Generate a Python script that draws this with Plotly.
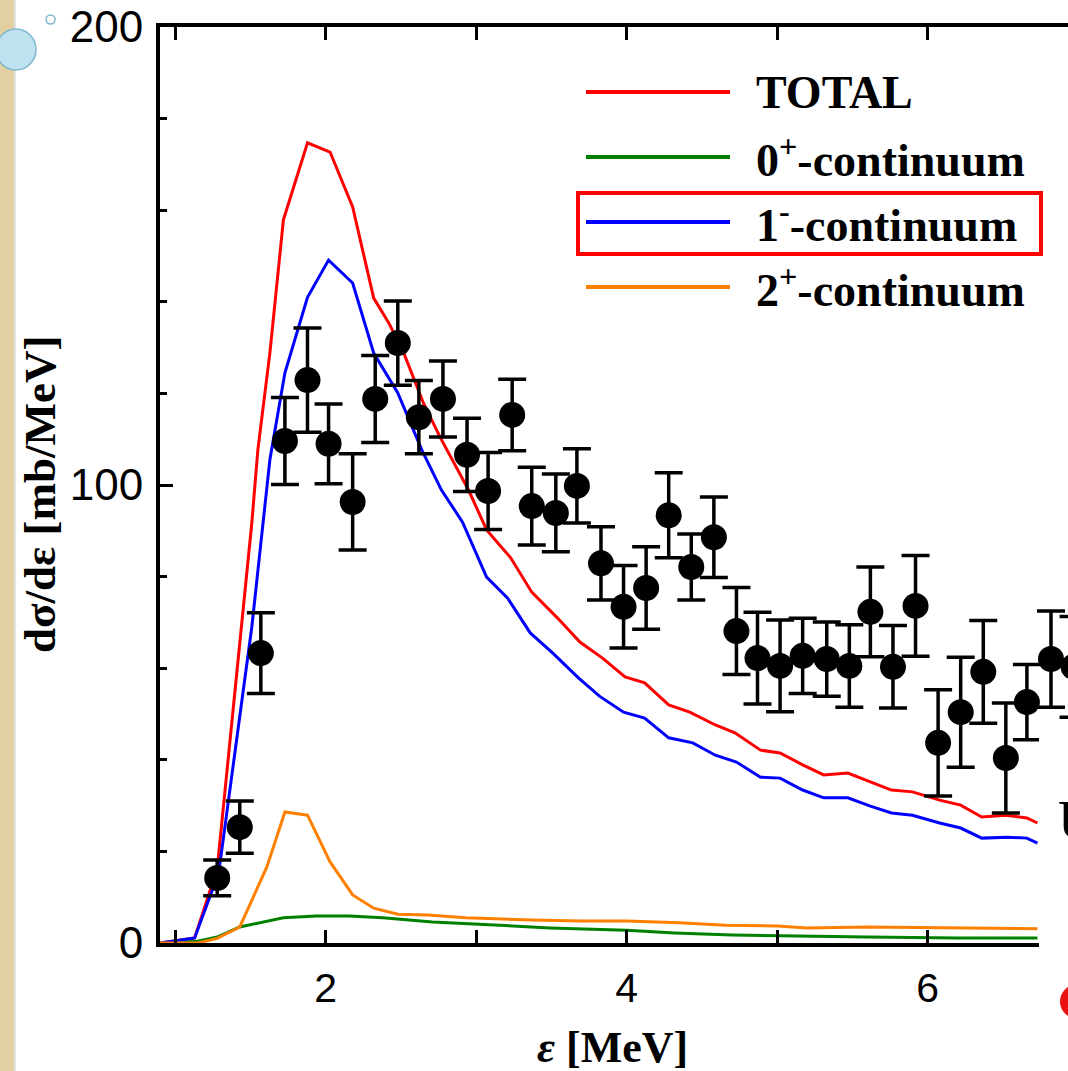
import plotly.graph_objects as go

# ---------------- data ----------------
exp_x = [1.28, 1.43, 1.57, 1.73, 1.88, 2.02, 2.18, 2.33, 2.48, 2.62, 2.78, 2.94, 3.08,
         3.24, 3.37, 3.53, 3.67, 3.83, 3.98, 4.13, 4.28, 4.43, 4.58, 4.73, 4.87, 5.02,
         5.17, 5.33, 5.48, 5.62, 5.77, 5.92, 6.07, 6.22, 6.37, 6.52, 6.66, 6.82, 6.97]
exp_y = [14.2, 25.3, 63.3, 109.6, 122.9, 109.0, 96.3, 118.8, 131.0, 114.8, 118.8, 106.6, 98.7,
         115.3, 95.4, 93.9, 99.8, 82.9, 73.4, 77.5, 93.4, 82.1, 88.6, 68.1, 62.2, 60.5,
         62.7, 62.0, 60.5, 72.3, 60.3, 73.6, 43.7, 50.4, 59.2, 40.4, 52.6, 62.0, 60.3]
exp_err = [3.9, 5.7, 8.8, 9.5, 11.4, 8.7, 10.5, 9.5, 9.2, 8.0, 8.3, 8.0, 8.4,
           7.8, 8.5, 8.5, 8.1, 8.0, 9.0, 9.0, 9.3, 7.2, 8.8, 9.5, 10.0, 10.0,
           8.2, 8.1, 9.0, 9.8, 9.0, 11.0, 11.6, 12.0, 11.2, 12.0, 8.2, 10.5, 11.0]

total_x = [0.90, 1.13, 1.28, 1.41, 1.51, 1.55, 1.63, 1.72, 1.88, 2.03, 2.18, 2.32, 2.42,
           2.52, 2.65, 2.76, 2.95, 3.07, 3.23, 3.37, 3.54, 3.69, 3.84, 3.99, 4.12, 4.28,
           4.42, 4.59, 4.72, 4.89, 5.02, 5.17, 5.31, 5.47, 5.62, 5.76, 5.90, 6.08, 6.22,
           6.36, 6.52, 6.66, 6.73]
total_y = [0.0, 1.1, 16.2, 59.0, 91.7, 107.6, 128.8, 157.9, 174.7, 172.7, 160.7, 140.8, 135.4,
           128.8, 117.9, 110.5, 98.9, 90.2, 84.1, 76.6, 71.0, 65.7, 62.2, 58.1, 56.8, 52.0,
           50.4, 47.6, 45.9, 42.1, 41.5, 38.9, 36.7, 37.1, 35.2, 33.4, 33.0, 31.2, 30.1,
           27.5, 27.9, 27.3, 26.2]

c1_x = [0.90, 1.13, 1.29, 1.41, 1.51, 1.63, 1.73, 1.88, 2.02, 2.18, 2.32, 2.48, 2.64,
        2.77, 2.91, 3.07, 3.21, 3.36, 3.51, 3.68, 3.82, 3.98, 4.12, 4.28, 4.44, 4.59,
        4.73, 4.89, 5.02, 5.17, 5.31, 5.47, 5.62, 5.76, 5.90, 6.08, 6.22, 6.36, 6.53,
        6.66, 6.73]
c1_y = [0.0, 1.1, 15.3, 44.3, 69.0, 105.5, 124.5, 141.0, 149.1, 144.1, 128.8, 120.1, 107.6,
        98.9, 91.9, 79.9, 75.3, 67.7, 63.3, 57.9, 53.9, 50.4, 49.1, 44.8, 43.7, 41.0,
        39.5, 36.2, 36.0, 33.4, 31.7, 31.7, 29.9, 28.4, 27.9, 26.2, 25.1, 22.9, 23.1,
        22.9, 21.8]

c2_x = [0.90, 1.15, 1.28, 1.43, 1.61, 1.73, 1.88, 2.03, 2.18, 2.32, 2.48, 2.68, 2.93,
        3.37, 3.70, 4.00, 4.35, 4.66, 5.00, 5.20, 5.60, 6.13, 6.73]
c2_y = [0.0, 0.0, 1.0, 3.5, 16.6, 28.6, 27.9, 17.7, 10.5, 7.6, 6.3, 6.1, 5.5,
        5.0, 4.8, 4.8, 4.4, 3.9, 3.7, 3.3, 3.5, 3.3, 3.1]

c0_x = [0.90, 1.15, 1.28, 1.43, 1.72, 1.94, 2.16, 2.38, 2.71, 3.05, 3.49, 4.00, 4.32,
        4.70, 5.08, 5.60, 6.20, 6.73]
c0_y = [0.0, 0.4, 1.3, 3.5, 5.5, 5.9, 5.9, 5.5, 4.6, 4.1, 3.3, 2.8, 2.2,
        1.75, 1.5, 1.3, 1.1, 1.1]

legend_labels = ["TOTAL", "0<sup>+</sup>-continuum", "1<sup>-</sup>-continuum", "2<sup>+</sup>-continuum"]
legend_colors = ["#FF0000", "#008000", "#0000FF", "#FF8000"]

x_range = [0.90, 6.933]
y_range = [0, 200]
x_tickvals = [2, 4, 6]
y_tickvals = [0, 100, 200]

# ---------------- figure ----------------
W, H = 1068, 1071
L, R, T, B = 160, 0, 27, 128
PW, PH = W - L - R, H - T - B

def px(x):
    return (x - L) / PW

def py(y):
    return (H - B - y) / PH

SERIF = "Liberation Serif, Times New Roman, serif"
SANS = "Liberation Sans, Arial, sans-serif"

fig = go.Figure()
curves = [(total_x, total_y), (c0_x, c0_y), (c1_x, c1_y), (c2_x, c2_y)]
for (cx, cy), name, col in zip(curves, legend_labels, legend_colors):
    fig.add_trace(go.Scatter(x=cx, y=cy, mode="lines", name=name,
                             line=dict(color=col, width=3), showlegend=False))

fig.add_trace(go.Scatter(
    x=exp_x, y=exp_y, mode="markers", showlegend=False,
    marker=dict(color="black", size=26),
    error_y=dict(type="data", array=exp_err, visible=True, color="black",
                 thickness=3.5, width=14),
))

axis_common = dict(showgrid=False, zeroline=False, showline=True, linecolor="black",
                   linewidth=4, ticks="inside", tickcolor="black", tickwidth=3)

fig.update_xaxes(range=x_range, tickvals=x_tickvals, ticklen=13, mirror="ticks",
                 tickfont=dict(family=SANS, size=41, color="black"),
                 ticklabelstandoff=6,
                 minor=dict(dtick=1, tick0=0, ticklen=13, ticks="inside",
                            tickcolor="black", tickwidth=3),
                 **axis_common)
fig.update_yaxes(range=y_range, tickvals=y_tickvals, ticklen=13, mirror=False,
                 tickfont=dict(family=SANS, size=44, color="black"),
                 ticklabelstandoff=4,
                 minor=dict(dtick=20, tick0=0, ticklen=7, ticks="inside",
                            tickcolor="black", tickwidth=3),
                 **axis_common)

shapes = []
annotations = []

# legend (drawn by hand)
leg_y = [92, 157, 222, 287]
for yy, lab, col in zip(leg_y, legend_labels, legend_colors):
    shapes.append(dict(type="line", xref="paper", yref="paper",
                       x0=px(586), x1=px(730), y0=py(yy), y1=py(yy),
                       line=dict(color=col, width=4)))
    annotations.append(dict(xref="paper", yref="paper", x=px(754), y=py(yy),
                            xanchor="left", yanchor="middle", showarrow=False,
                            text="<b>" + lab + "</b>",
                            font=dict(family=SERIF, size=46, color="black")))
# red highlight box
shapes.append(dict(type="rect", xref="paper", yref="paper",
                   x0=px(578), x1=px(1041), y0=py(193), y1=py(254),
                   line=dict(color="#FF0000", width=4), fillcolor="rgba(0,0,0,0)"))

# white region covering the bottom-right corner of the slide
shapes.append(dict(type="rect", xref="paper", yref="paper", layer="above",
                   x0=px(1039), x1=px(1075), y0=py(724), y1=py(1075),
                   line=dict(width=0), fillcolor="white"))

# slide decorations
shapes.append(dict(type="rect", xref="paper", yref="paper", layer="below",
                   x0=px(-5), x1=px(14), y0=py(-5), y1=py(1080),
                   line=dict(width=0), fillcolor="#E2CFA2"))
shapes.append(dict(type="line", xref="paper", yref="paper",
                   x0=px(15), x1=px(15), y0=py(0), y1=py(1071),
                   line=dict(color="#C8C8C8", width=1)))
shapes.append(dict(type="circle", xref="paper", yref="paper",
                   x0=px(-4), x1=px(36), y0=py(29), y1=py(70),
                   line=dict(color="#7DB7CC", width=1.5), fillcolor="#BFE2F0"))
shapes.append(dict(type="circle", xref="paper", yref="paper",
                   x0=px(46), x1=px(55), y0=py(15), y1=py(24),
                   line=dict(color="#7DB7CC", width=1.5), fillcolor="white"))
shapes.append(dict(type="circle", xref="paper", yref="paper", layer="above",
                   x0=px(1060), x1=px(1096), y0=py(984), y1=py(1019),
                   line=dict(width=0), fillcolor="#E81010"))

# axis titles
annotations.append(dict(xref="paper", yref="paper", x=px(612), y=py(1047),
                        xanchor="center", yanchor="middle", showarrow=False,
                        text="<b><i>ε</i> [MeV]</b>",
                        font=dict(family=SERIF, size=44, color="black")))
annotations.append(dict(xref="paper", yref="paper", x=px(40), y=py(495),
                        xanchor="center", yanchor="middle", showarrow=False,
                        textangle=-90, text="<b>dσ/dε [mb/MeV]</b>",
                        font=dict(family=SERIF, size=45, color="black")))
# partial slide text at the right edge
annotations.append(dict(xref="paper", yref="paper", x=px(1056), y=py(820),
                        xanchor="left", yanchor="middle", showarrow=False,
                        text="U", font=dict(family=SERIF, size=54, color="black")))

fig.update_layout(width=W, height=H, margin=dict(l=L, r=R, t=T, b=B),
                  paper_bgcolor="white", plot_bgcolor="white",
                  shapes=shapes, annotations=annotations, showlegend=False)

fig.write_html("out.html")
